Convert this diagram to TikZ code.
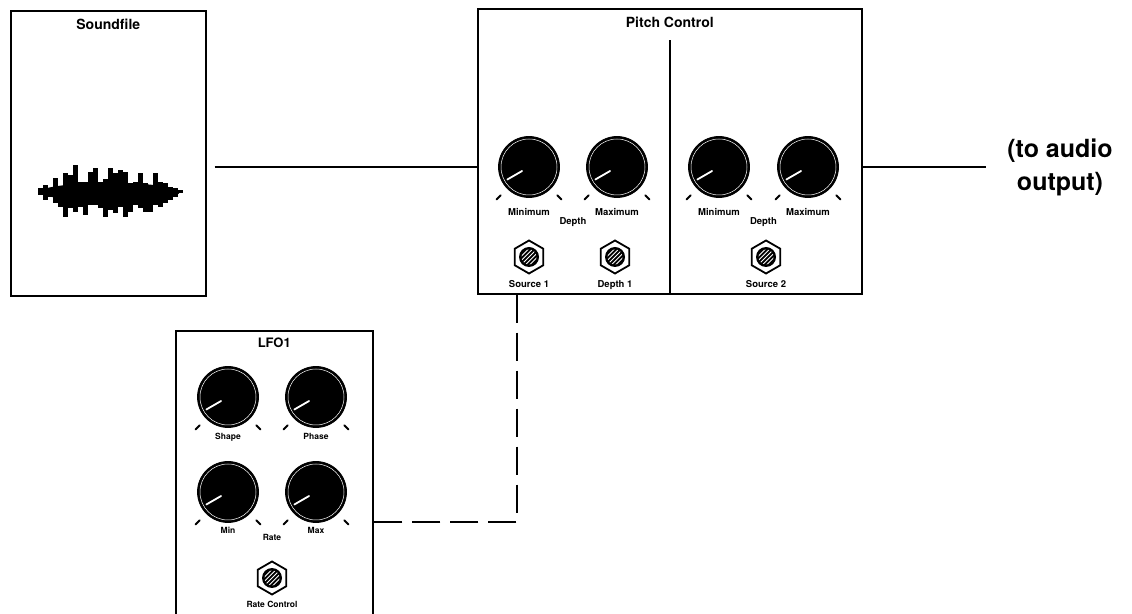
\documentclass[tikz,border=0pt]{standalone}
\usepackage{fontspec}
\setmainfont{TeX Gyre Heros}
\usetikzlibrary{positioning,calc,shapes.geometric}

\tikzset{
  module/.style={draw, line width=1.6pt, inner sep=0pt, anchor=north west},
  title/.style={font=\bfseries\fontsize{14}{16}\selectfont, inner sep=1pt},
  knob_label/.style={font=\bfseries\fontsize{9.5}{11}\selectfont, inner sep=1pt},
  lfo_label/.style={font=\bfseries\fontsize{8.5}{10}\selectfont, inner sep=1pt},
  knob/.style={circle, draw, fill=black, line width=0.8pt, minimum size=61pt, inner sep=0pt,
    path picture={
      \draw[white, line width=0.5pt] (path picture bounding box.center) circle (28pt);
      \draw[white, line width=1.8pt, line cap=round, shift={(path picture bounding box.center)}] (210:8pt) -- (210:25pt);
    }},
  knob_tick/.style={line width=2pt, line cap=round},
  jack/.style={regular polygon, regular polygon sides=6, shape border rotate=30, draw, line width=1.8pt,
    minimum size=33pt, inner sep=0pt,
    path picture={
      \begin{scope}[shift={(path picture bounding box.center)}]
        \fill (0,0) circle (10pt);
        \clip (0,0) circle (7.5pt);
        \foreach \d in {-6,-3,0,3,6}
          \draw[white, line width=0.9pt] ({(0.707*\d-9)*1pt},{(-0.707*\d-9)*1pt}) -- ({(0.707*\d+9)*1pt},{(-0.707*\d+9)*1pt});
      \end{scope}
    }},
  wire/.style={line width=1.6pt},
  cv_wire/.style={line width=1.6pt, dash pattern=on 28pt off 10pt}
}

\begin{document}
\begin{tikzpicture}[x=1pt, y=1pt]
  \useasboundingbox (0,0) rectangle (1132,613);

  % modules
  \node[module, minimum width=195pt, minimum height=285pt] (soundfile) at (10,603) {};
  \node[module, minimum width=384pt, minimum height=285pt] (pitch) at (477,605) {};
  \node[module, minimum width=197pt, minimum height=289pt] (lfo) at (175,283) {};

  % titles
  \node[title] (soundfile_title) at ([yshift=-14pt]soundfile.north) {Soundfile};
  \node[title] (pitch_title) at ([yshift=-14pt]pitch.north) {Pitch Control};
  \node[title, font=\bfseries\fontsize{13}{15}\selectfont] (lfo_title) at ([yshift=-13pt]lfo.north) {LFO1};

  % divider
  \draw[line width=1.4pt] (pitch.south) -- ([yshift=-32pt]pitch.north);

  % waveform
  \coordinate (wave_start) at (38,421);
  \fill ($(wave_start)+(72,0)$) ellipse (70 and 9);
  \foreach \up/\dn [count=\i from 0] in {4/3, 7/8, 4/5, 14/11, 5/15, 19/25, 17/16, 27/20, 10/15, 10/23,
      20/13, 24/13, 10/16, 13/25, 24/18, 19/21, 22/15, 20/25, 9/20, 10/13,
      19/16, 9/20, 7/20, 19/13, 10/15, 9/11, 5/8, 4/5, 2/1}
    \fill (wave_start) ++(5*\i,\up) rectangle ++(5,-\up-\dn);

  % pitch control knobs
  \node[knob] (min1_knob) at (529,446) {};
  \node[knob] (max1_knob) at (617,446) {};
  \node[knob] (min2_knob) at (719,446) {};
  \node[knob] (max2_knob) at (808,446) {};
  \node[knob_label, below=9pt of min1_knob] (min1_label) {Minimum};
  \node[knob_label, below=9pt of max1_knob] (max1_label) {Maximum};
  \node[knob_label, below=9pt of min2_knob] (min2_label) {Minimum};
  \node[knob_label, below=9pt of max2_knob] (max2_label) {Maximum};
  \node[knob_label] (depth1_label) at ($(min1_knob)!0.5!(max1_knob)+(0,-55)$) {Depth};
  \node[knob_label] (depth2_label) at ($(min2_knob)!0.5!(max2_knob)+(0,-55)$) {Depth};

  % pitch control jacks
  \node[jack] (source1_jack) at (529,356) {};
  \node[jack] (depth1_jack) at (615,356) {};
  \node[jack] (source2_jack) at (766,356) {};
  \node[knob_label, below=4.5pt of source1_jack] (source1_label) {Source 1};
  \node[knob_label, below=4.5pt of depth1_jack] (depth1_jack_label) {Depth 1};
  \node[knob_label, below=4.5pt of source2_jack] (source2_label) {Source 2};

  % lfo knobs
  \node[knob] (shape_knob) at (228,216) {};
  \node[knob] (phase_knob) at (316,216) {};
  \node[knob] (min_knob) at (228,121) {};
  \node[knob] (max_knob) at (316,121) {};
  \node[lfo_label, below=4pt of shape_knob] (shape_label) {Shape};
  \node[lfo_label, below=4pt of phase_knob] (phase_label) {Phase};
  \node[lfo_label, below=3pt of min_knob] (min_label) {Min};
  \node[lfo_label, below=3pt of max_knob] (max_label) {Max};
  \node[lfo_label] (rate_label) at ($(min_knob)!0.5!(max_knob)+(0,-45)$) {Rate};
  \node[jack] (rate_jack) at (272,35) {};
  \node[lfo_label, below=4pt of rate_jack] (rate_jack_label) {Rate Control};

  % knob ticks
  \foreach \k in {min1_knob, max1_knob, min2_knob, max2_knob, shape_knob, phase_knob, min_knob, max_knob} {
    \draw[knob_tick] ([shift={(225:40pt)}]\k.center) -- ([shift={(225:46pt)}]\k.center);
    \draw[knob_tick] ([shift={(315:40pt)}]\k.center) -- ([shift={(315:46pt)}]\k.center);
  }

  % output
  \node[font=\bfseries\fontsize{25}{33}\selectfont, align=center, inner sep=2pt] (out_label) at (1060,446) {(to audio\\output)};

  % connections
  \draw[wire, shorten <=8pt] (soundfile.east |- min1_knob) -- (pitch.west |- min1_knob);
  \draw[wire, shorten >=19pt] (pitch.east |- max2_knob) -- (out_label.west |- max2_knob);
  \coordinate (cv_bend) at (517,91);
  \draw[cv_wire] (cv_bend |- pitch.south) |- (lfo.east |- cv_bend);
\end{tikzpicture}
\end{document}
